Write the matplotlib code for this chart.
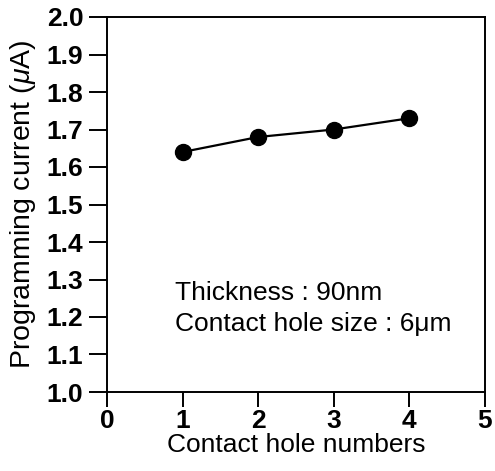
import numpy as np
import matplotlib
matplotlib.use("Agg")
import matplotlib.pyplot as plt

plt.rcParams['font.family'] = ['Liberation Sans', 'DejaVu Sans']
plt.rcParams['mathtext.fontset'] = 'custom'
plt.rcParams['mathtext.rm'] = 'Liberation Sans'
plt.rcParams['mathtext.it'] = 'Liberation Sans:italic'

holes = [1, 2, 3, 4]
current = [1.64, 1.68, 1.70, 1.73]

xticks = [0, 1, 2, 3, 4, 5]
yticks = [1.0, 1.1, 1.2, 1.3, 1.4, 1.5, 1.6, 1.7, 1.8, 1.9, 2.0]

fig = plt.figure(figsize=(4.95, 4.71), dpi=100)
ax = fig.add_axes([107/495, 1 - 392/471, (485-107)/495, (392-17)/471])

ax.plot(holes, current, color='black', lw=1.6, marker='o', ms=11.5,
        markerfacecolor='black', markeredgecolor='black')

ax.set_xlim(0, 5)
ax.set_ylim(1.0, 2.0)
ax.set_xticks(xticks)
ax.set_yticks(yticks)
ax.set_xticklabels([str(t) for t in xticks], fontsize=19, fontweight='bold')
ax.set_yticklabels(["{:.1f}".format(t) for t in yticks], fontsize=19, fontweight='bold')
ax.tick_params(axis='x', direction='out', length=11, width=1.4, pad=1)
ax.tick_params(axis='y', direction='out', length=13, width=1.4, pad=4)

for s in ax.spines.values():
    s.set_linewidth(1.4)

ax.set_xlabel("Contact hole numbers", fontsize=19, labelpad=0)
ax.set_ylabel(r"Programming current ($\mu$A)", fontsize=20.5, labelpad=6)

ax.text(0.9, 1.245, "Thickness : 90nm", fontsize=19)
ax.text(0.9, 1.163, "Contact hole size : 6\u03bcm", fontsize=19)

fig.savefig("out.png", dpi=100)
